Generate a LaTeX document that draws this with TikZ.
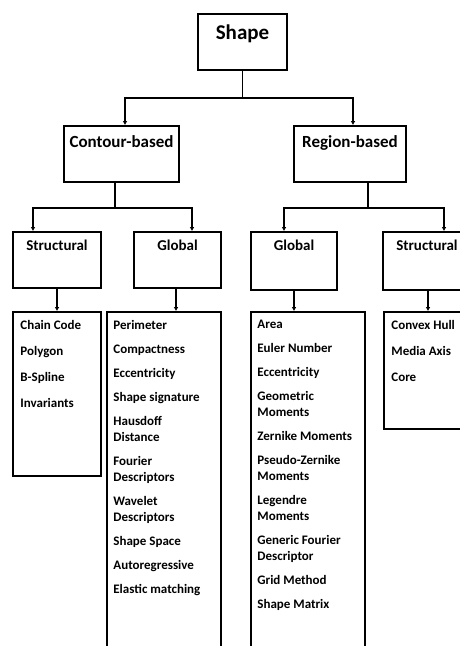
\documentclass[tikz,border=0pt]{standalone}
\usepackage{fontspec}
\setmainfont{Carlito}
\usetikzlibrary{arrows.meta}

\tikzset{
  box/.style={draw, line width=1.6pt, inner sep=0pt},
  arr/.style={line width=1.6pt, -{Latex[length=4pt,width=4.5pt]}},
  lnk/.style={line width=1.6pt},
  head/.style={inner sep=0pt, anchor=north, font=\bfseries\fontsize{#1}{#1}\selectfont},
  items/.style={inner sep=0pt, anchor=north west, align=left, font=\bfseries\fontsize{13}{16}\selectfont}
}

\begin{document}
\begin{tikzpicture}[x=1pt,y=-1pt]
  \useasboundingbox (0,0) rectangle (460,646);
  \clip (0,0) rectangle (460,646);

  % Top
  \node[box, minimum width=89pt, minimum height=56pt] (shape) at (242.5,42) {};
  \node[head=21] (shapetxt) at ([yshift=-11pt]shape.north) {Shape};

  % Second level
  \node[box, minimum width=115pt, minimum height=56pt] (contour) at (121.5,154) {};
  \node[head=17] (contourtxt) at ([yshift=-10pt]contour.north) {Contour-based};
  \node[box, minimum width=112pt, minimum height=56pt] (region) at (350,154) {};
  \node[head=17] (regiontxt) at ([yshift=-10pt]region.north) {Region-based};
  \coordinate (j1) at (242.5,98);
  \draw[lnk] (shape.south) -- (j1);
  \draw[arr] (j1) -| ([xshift=3.5pt]contour.north);
  \draw[arr] (j1) -| ([xshift=3pt]region.north);

  % Contour-based children
  \node[box, minimum width=88pt, minimum height=56pt] (cstruct) at (57,260) {};
  \node[head=15] (cstructtxt) at ([yshift=-9pt]cstruct.north) {Structural};
  \node[box, minimum width=87pt, minimum height=56pt] (cglobal) at (177.5,260) {};
  \node[head=15] (cglobaltxt) at ([yshift=-9pt]cglobal.north) {Global};
  \coordinate (j2) at (115,208);
  \draw[lnk] (contour.south -| j2) -- (j2);
  \draw[arr] (j2) -| ([xshift=-24pt]cstruct.north);
  \draw[arr] (j2) -| ([xshift=14.5pt]cglobal.north);

  % Region-based children
  \node[box, minimum width=86pt, minimum height=58pt] (rglobal) at (294,261) {};
  \node[head=15] (rglobaltxt) at ([yshift=-9pt]rglobal.north) {Global};
  \node[box, minimum width=88pt, minimum height=58pt] (rstruct) at (427,261) {};
  \node[head=15] (rstructtxt) at ([yshift=-9pt]rstruct.north) {Structural};
  \coordinate (j3) at (368,208);
  \draw[lnk] (region.south -| j3) -- (j3);
  \draw[arr] (j3) -| ([xshift=-10pt]rglobal.north);
  \draw[arr] (j3) -| ([xshift=17pt]rstruct.north);

  % Lists
  \node[box, minimum width=88pt, minimum height=164pt] (clist) at (57,394) {};
  \node[items] (clisttxt) at ([xshift=8pt,yshift=-9pt]clist.north west)
    {Chain Code\\[10pt]Polygon\\[10pt]B-Spline\\[10pt]Invariants};
  \node[box, minimum width=114pt, minimum height=360pt] (cglist) at (164,492) {};
  \node[items] (cglisttxt) at ([xshift=7pt,yshift=-9pt]cglist.north west)
    {Perimeter\\[8pt]Compactness\\[8pt]Eccentricity\\[8pt]Shape signature\\[8pt]Hausdoff\\Distance\\[8pt]%
     Fourier\\Descriptors\\[8pt]Wavelet\\Descriptors\\[8pt]Shape Space\\[8pt]Autoregressive\\[8pt]Elastic matching};
  \node[box, minimum width=114pt, minimum height=360pt] (rglist) at (308,492) {};
  \node[items] (rglisttxt) at ([xshift=7pt,yshift=-9pt]rglist.north west)
    {Area\\[8pt]Euler Number\\[8pt]Eccentricity\\[8pt]Geometric\\Moments\\[8pt]Zernike Moments\\[8pt]%
     Pseudo-Zernike\\Moments\\[8pt]Legendre\\Moments\\[8pt]Generic Fourier\\Descriptor\\[8pt]Grid Method\\[8pt]Shape Matrix};
  \node[box, minimum width=88pt, minimum height=117pt] (rslist) at (428,370.5) {};
  \node[items] (rslisttxt) at ([xshift=8pt,yshift=-9pt]rslist.north west)
    {Convex Hull\\[10pt]Media Axis\\[10pt]Core};
  \draw[arr] (cstruct.south) -- (cstruct.south |- clist.north);
  \draw[arr] ([xshift=-1.5pt]cglobal.south) -- ([xshift=-1.5pt]cglobal.south |- cglist.north);
  \draw[arr] (rglobal.south) -- (rglobal.south |- rglist.north);
  \draw[arr] ([xshift=1pt]rstruct.south) -- ([xshift=1pt]rstruct.south |- rslist.north);
\end{tikzpicture}
\end{document}
